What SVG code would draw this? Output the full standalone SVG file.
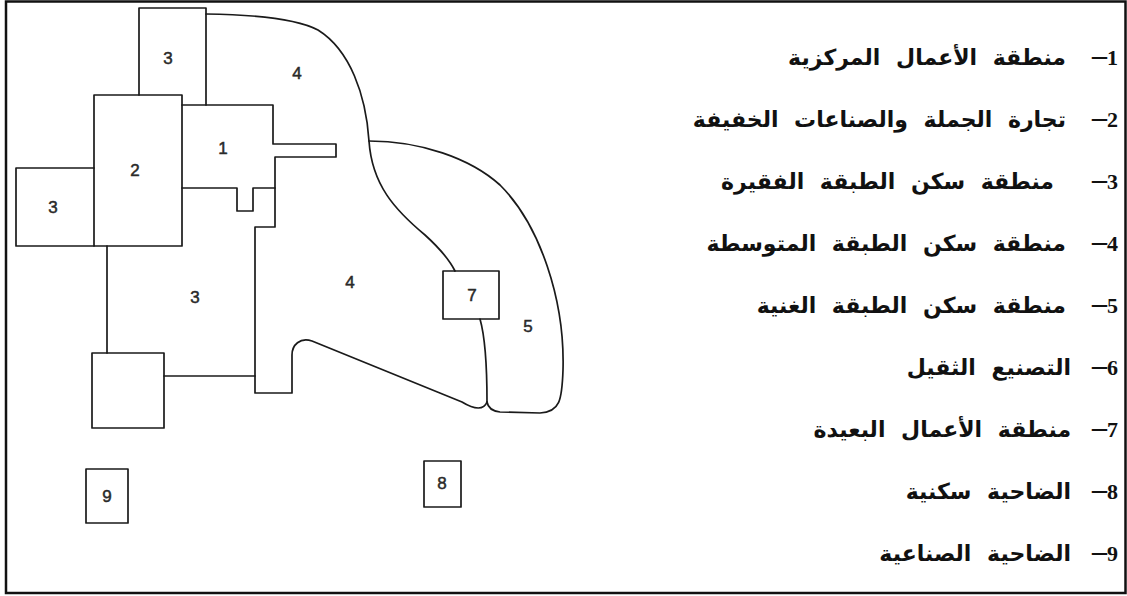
<svg xmlns="http://www.w3.org/2000/svg" width="1127" height="596" viewBox="0 0 1127 596">
<style>
.ln{fill:none;stroke:#1a1a1a;stroke-width:1.7;stroke-linejoin:round;stroke-linecap:round}
.lb{font-family:"Liberation Sans",Arial,sans-serif;font-size:17px;fill:#2a2a2a;text-anchor:middle;stroke:#2a2a2a;stroke-width:0.5}
.num{font-family:"Liberation Serif","Times New Roman",serif;font-weight:bold;font-size:22px;fill:#111}
.ds{font-size:30px}
.ar{font-family:"DejaVu Sans",sans-serif;font-weight:bold;font-size:22px;word-spacing:8px;fill:#111}
</style>
<rect x="6" y="1.5" width="1119.5" height="591.5" fill="#fff" stroke="#111" stroke-width="2.5"/>
<g id="map">
<g id="connectors">
<path class="ln" d="M206,14 Q290,15 318,30 C350,50 366,95 369,141 C372,185 395,210 425,235 Q447,255 455,271"/>
<path class="ln" d="M369,141 C420,141 470,158 500,185 C540,225 565,300 563,370 C562,400 560,412 540,413 L500,412 C492,411 488,408 487,402"/>
<path class="ln" d="M480,319 C486,340 487,370 487,402"/>
<path class="ln" d="M487,402 C484,410 475,410 462,402 L312,341 C300,337 292,345 292,355 L292,393 L255,393 L255,227 L275,227 L275,157 L336,157 L336,144 L273,144 L273,105 L182,105"/>
<path class="ln" d="M182,188 L237,188 L237,211 L253,211 L253,188 L275,188"/>
<path class="ln" d="M107,246 L107,353"/>
<path class="ln" d="M164,376 L255,376"/>
</g>
<g id="node-3-top"><path class="ln" d="M139,95 L139,8 L206,8 L206,105"/><text class="lb" x="168" y="64">3</text></g>
<g id="node-2"><rect class="ln" x="94" y="95" width="88" height="151"/><text class="lb" x="135" y="176">2</text></g>
<g id="node-3-left"><path class="ln" d="M94,168 L16,168 L16,246 L94,246"/><text class="lb" x="53" y="213">3</text></g>
<g id="node-1"><text class="lb" x="223" y="154">1</text></g>
<g id="node-4-top"><text class="lb" x="297" y="79">4</text></g>
<g id="node-3-mid"><text class="lb" x="195" y="303">3</text></g>
<g id="node-4-mid"><text class="lb" x="350" y="288">4</text></g>
<g id="node-6"><rect class="ln" x="92" y="353" width="72" height="75"/></g>
<g id="node-7"><rect class="ln" x="443" y="271" width="56" height="48"/><text class="lb" x="472" y="301">7</text></g>
<g id="node-5"><text class="lb" x="528" y="332">5</text></g>
<g id="node-9"><rect class="ln" x="86" y="469" width="42" height="54"/><text class="lb" x="107" y="502">9</text></g>
<g id="node-8"><rect class="ln" x="424" y="461" width="37" height="46"/><text class="lb" x="442" y="489">8</text></g>
</g>
<g id="legend">
<g id="leg1"><text class="num" x="1118" y="65" direction="rtl" text-anchor="start">1<tspan class="ds">–</tspan></text><text class="ar" x="1066" y="65" direction="rtl" text-anchor="start">منطقة الأعمال المركزية</text></g>
<g id="leg2"><text class="num" x="1118" y="127" direction="rtl" text-anchor="start">2<tspan class="ds">–</tspan></text><text class="ar" x="1066" y="127" direction="rtl" text-anchor="start">تجارة الجملة والصناعات الخفيفة</text></g>
<g id="leg3"><text class="num" x="1118" y="189" direction="rtl" text-anchor="start">3<tspan class="ds">–</tspan></text><text class="ar" x="1054" y="189" direction="rtl" text-anchor="start">منطقة سكن الطبقة الفقيرة</text></g>
<g id="leg4"><text class="num" x="1118" y="251" direction="rtl" text-anchor="start">4<tspan class="ds">–</tspan></text><text class="ar" x="1066" y="251" direction="rtl" text-anchor="start">منطقة سكن الطبقة المتوسطة</text></g>
<g id="leg5"><text class="num" x="1118" y="313" direction="rtl" text-anchor="start">5<tspan class="ds">–</tspan></text><text class="ar" x="1066" y="313" direction="rtl" text-anchor="start">منطقة سكن الطبقة الغنية</text></g>
<g id="leg6"><text class="num" x="1118" y="375" direction="rtl" text-anchor="start">6<tspan class="ds">–</tspan></text><text class="ar" x="1071" y="375" direction="rtl" text-anchor="start">التصنيع الثقيل</text></g>
<g id="leg7"><text class="num" x="1118" y="437" direction="rtl" text-anchor="start">7<tspan class="ds">–</tspan></text><text class="ar" x="1071" y="437" direction="rtl" text-anchor="start">منطقة الأعمال البعيدة</text></g>
<g id="leg8"><text class="num" x="1118" y="499" direction="rtl" text-anchor="start">8<tspan class="ds">–</tspan></text><text class="ar" x="1071" y="499" direction="rtl" text-anchor="start">الضاحية سكنية</text></g>
<g id="leg9"><text class="num" x="1118" y="561" direction="rtl" text-anchor="start">9<tspan class="ds">–</tspan></text><text class="ar" x="1071" y="561" direction="rtl" text-anchor="start">الضاحية الصناعية</text></g>
</g>
</svg>
